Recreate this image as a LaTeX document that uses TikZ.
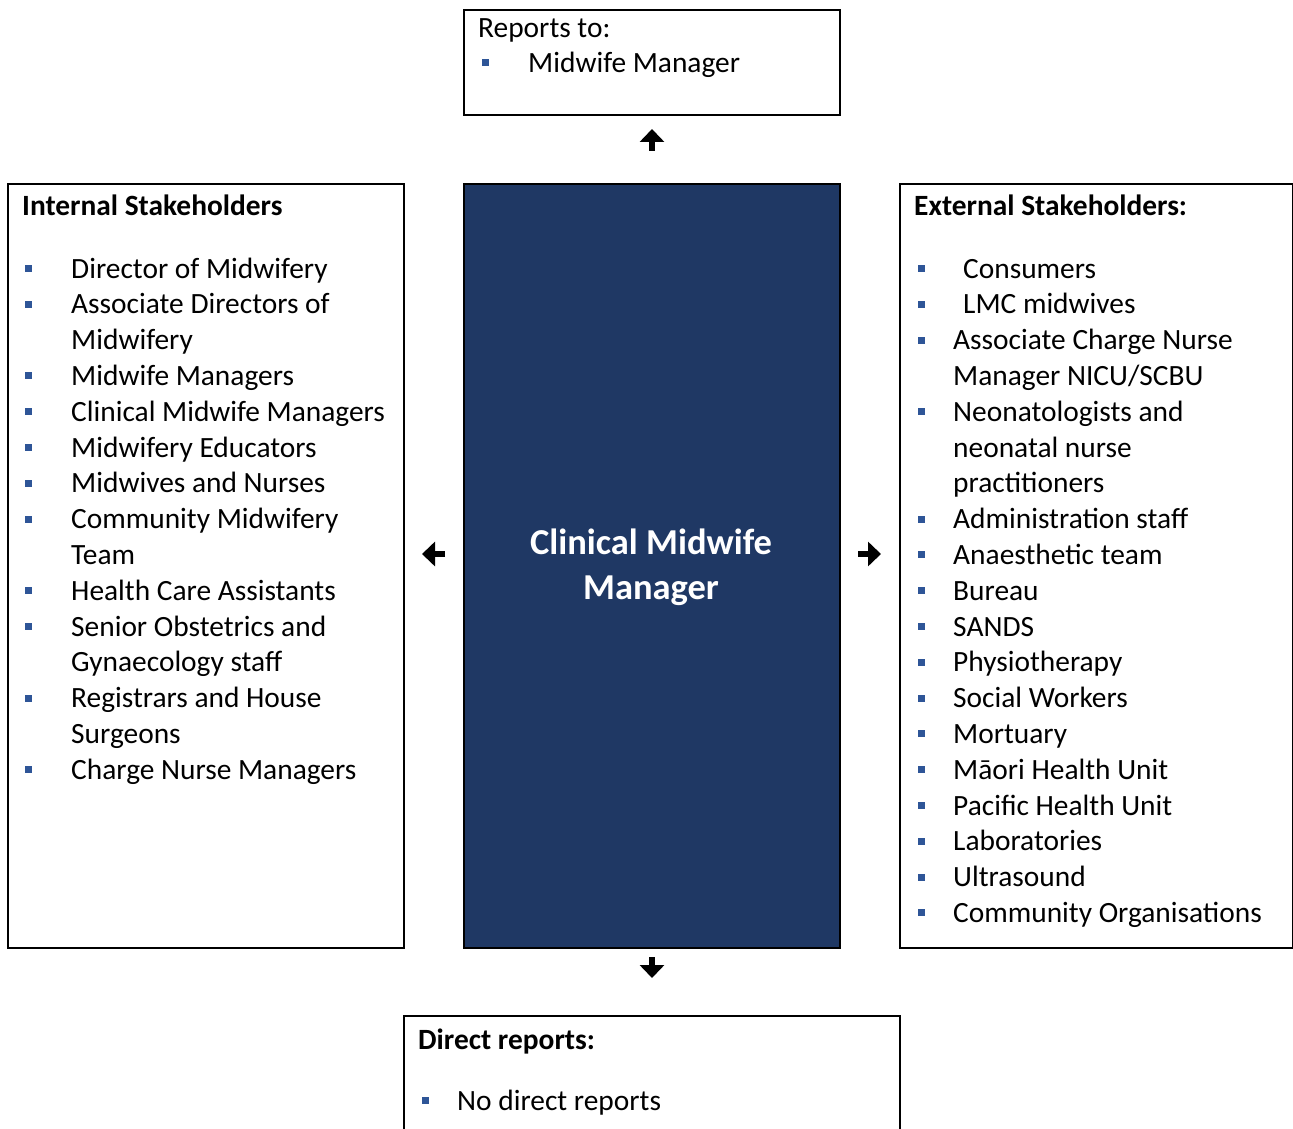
\documentclass[tikz,border=0pt]{standalone}
\usepackage{fontspec}
\setmainfont{Carlito}
\usetikzlibrary{arrows.meta}
\definecolor{navy}{HTML}{1F3864}
\definecolor{bulc}{HTML}{2E5597}
\begin{document}
\begin{tikzpicture}[x=1pt,y=-1pt,
  box/.style={draw=black,line width=2pt,anchor=north west,inner sep=0pt},
  txt/.style={anchor=base west,inner sep=0pt,font=\fontsize{29.4}{36}\selectfont},
  hd/.style={anchor=base west,inner sep=0pt,font=\fontsize{29.4}{36}\selectfont\bfseries},
  bul/.style={fill=bulc,minimum size=7pt,inner sep=0pt},
  arr/.style={line width=5.5pt,-{Triangle[length=13pt,width=24pt]}}]
\useasboundingbox (0,0) rectangle (1293,1129);
\clip (0,0) rectangle (1293,1129);
% boxes
\node[box,minimum width=376pt,minimum height=105pt] (reports) at (463,9) {};
\node[box,minimum width=396pt,minimum height=764pt] (internal) at (7,183) {};
\node[box,fill=navy,minimum width=376pt,minimum height=764pt] (center) at (463,183) {};
\node[box,minimum width=393pt,minimum height=764pt] (external) at (899,183) {};
\node[box,minimum width=496pt,minimum height=140pt] (direct) at (403,1015) {};
% centre title
\node[text=white,align=center,font=\fontsize{36.5}{45}\selectfont\bfseries] (title) at (651,567) {Clinical Midwife\\Manager};
% reports to
\node[txt] (rt) at (478,38) {Reports to:};
\node[bul] (rb) at (485,63) {};
\node[txt] (rm) at (528,73) {Midwife Manager};
% internal
\node[hd] (ih) at (22,215) {Internal Stakeholders};
\foreach \t/\b [count=\k from 0] in {
  Director of Midwifery/1, Associate Directors of/1, Midwifery/0,
  Midwife Managers/1, Clinical Midwife Managers/1, Midwifery Educators/1,
  Midwives and Nurses/1, Community Midwifery/1, Team/0,
  Health Care Assistants/1, Senior Obstetrics and/1, Gynaecology staff/0,
  Registrars and House/1, Surgeons/0, Charge Nurse Managers/1}{
  \pgfmathsetmacro{\yy}{269+\k*35.8}
  \node[txt] (i\k) at (71,\yy+9) {\t};
  \ifnum\b=1 \node[bul] (ib\k) at (28.5,\yy-0.5) {};\fi
}
% external
\node[hd] (eh) at (914,215) {External Stakeholders:};
\foreach \t/\b/\x [count=\k from 0] in {
  Consumers/1/963, LMC midwives/1/963, Associate Charge Nurse/1/953,
  Manager NICU\slash SCBU/0/953, Neonatologists and/1/953, neonatal nurse/0/953,
  practitioners/0/953, Administration staff/1/953, Anaesthetic team/1/953,
  Bureau/1/953, SANDS/1/953, Physiotherapy/1/953, Social Workers/1/953,
  Mortuary/1/953, Māori Health Unit/1/953, Pacific Health Unit/1/953,
  Laboratories/1/953, Ultrasound/1/953, Community Organisations/1/953}{
  \pgfmathsetmacro{\yy}{269+\k*35.8}
  \node[txt] (e\k) at (\x,\yy+9) {\t};
  \ifnum\b=1 \node[bul] (eb\k) at (921.5,\yy-0.5) {};\fi
}
% direct reports
\node[hd] (dh) at (418,1049) {Direct reports:};
\node[bul] (db) at (425,1100) {};
\node[txt] (dn) at (457,1110) {No direct reports};
% arrows
\draw[arr,shorten <=32pt,shorten >=13pt] (center.north) -- (reports.south);
\draw[arr,shorten <=8pt,shorten >=37pt] (center.south) -- (direct.north);
\draw[arr,shorten <=18pt,shorten >=17pt] ([yshift=12pt]center.west) -- ([yshift=12pt]internal.east);
\draw[arr,shorten <=17pt,shorten >=18pt] ([yshift=12pt]center.east) -- ([yshift=12pt]external.west);
\end{tikzpicture}
\end{document}
